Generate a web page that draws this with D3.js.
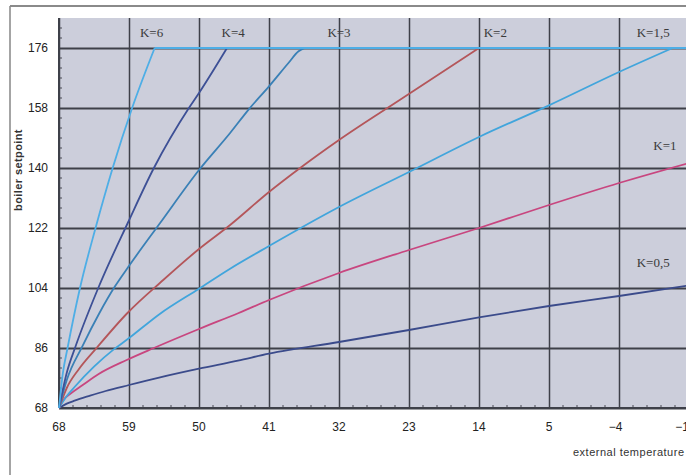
<!DOCTYPE html>
<html>
<head>
<meta charset="utf-8">
<script src="https://cdn.jsdelivr.net/npm/d3@7"></script>
<style>
  html, body { margin: 0; padding: 0; background: #fff; }
  svg { display: block; }
</style>
</head>
<body>
<svg id="chart" width="686" height="475"></svg>
<script>
// tick labels
const xTicks = [68, 59, 50, 41, 32, 23, 14, 5, -4, -13];
const yTicks = [68, 86, 104, 122, 140, 158, 176];

// curves: [external temperature, boiler setpoint]
const k05 = [[68, 68], [67, 69.3], [66, 70.2], [64, 71.7], [62, 73.1], [59, 74.9], [55, 77.2], [50, 79.8], [45, 82.2], [41, 84.3], [32, 87.8], [23, 91.4], [14, 95.2], [5, 98.6], [-4, 101.6], [-13, 104.8]];
const k1 = [[68, 68], [67.5, 70.2], [66.5, 72.3], [65, 74.8], [62.9, 78.2], [59.3, 82.4], [55.8, 86], [50, 91.7], [44.9, 96.5], [41, 100.4], [32, 108.5], [23, 115.4], [14, 122], [5, 128.9], [-4, 135.5], [-13, 141.5]];
const k15 = [[68, 68], [67, 71.6], [66, 74.3], [63.5, 80.4], [61, 85.5], [59.2, 88.6], [55, 96.3], [50, 103.8], [46, 109.8], [41, 116.6], [32, 128.3], [23, 138.8], [14, 149.3], [5, 158.8], [-4, 168.8], [-10.9, 176], [-13, 176]];
const k2 = [[68, 68], [67, 74], [65.5, 79.5], [63.1, 86.2], [59.2, 96.5], [54.6, 106.4], [50, 115.7], [46, 122.9], [41, 132.8], [37, 140], [32, 148.4], [24.2, 160.4], [14, 176], [-13, 176]];
const k3 = [[68, 68], [67, 76.4], [65, 86.5], [62.8, 96.5], [60.8, 104.5], [59.1, 110.3], [55, 123.5], [50, 139.4], [46, 150.5], [43.6, 157.6], [41, 164.5], [38.5, 171.5], [37.2, 175], [36.4, 176], [-13, 176]];
const k4 = [[68, 68], [67, 78.6], [65.9, 86.3], [62.9, 104.3], [59.1, 123.8], [55.8, 140], [51.3, 158], [50, 162.5], [46.4, 176], [-13, 176]];
const k6 = [[68, 68], [67.5, 78.5], [66.9, 86], [65.3, 104], [63.3, 122], [61.1, 140], [58.6, 158], [55.7, 176], [-13, 176]];

const seriesNames = ["K=0,5", "K=1", "K=1,5", "K=2", "K=3", "K=4", "K=6"];
const seriesData = [k05, k1, k15, k2, k3, k4, k6];
const seriesColors = ["#3b4b8b", "#c8467f", "#41a5dc", "#b4565a", "#3a80b6", "#3d5096", "#4eaee6"];
const setpointMax = 176;

// where each K label sits, in chart units
const labelPos = [[-8.4, 111.8], [-9.9, 146.9], [-8.4, 180.8], [11.9, 180.8], [32, 180.8], [45.6, 180.8], [56.1, 180.8]];

const svg = d3.select('#chart');

const plotLeft = 59, plotRight = 689, plotTop = 18, plotBottom = 408;

const x = d3.scaleLinear().domain([68, -13]).range([plotLeft, plotRight]);
const y = d3.scaleLinear().domain([68, 185]).range([plotBottom, plotTop]);

// outer frame
svg.append('line').attr('x1', 10).attr('x2', 10).attr('y1', 6).attr('y2', 475)
   .attr('stroke', '#a4a4a4').attr('stroke-width', 2);
svg.append('line').attr('x1', 10).attr('x2', 686).attr('y1', 6).attr('y2', 6)
   .attr('stroke', '#8a8a8a').attr('stroke-width', 2);

// plot background
svg.append('rect')
   .attr('x', plotLeft).attr('y', plotTop)
   .attr('width', plotRight - plotLeft).attr('height', plotBottom - plotTop)
   .attr('fill', '#cccedb');

// minor ticks
const minorY = d3.range(68, 185, 3).filter(v => !yTicks.includes(v));
svg.append('g').selectAll('line')
   .data(minorY)
   .join('line')
   .attr('x1', plotLeft).attr('x2', plotLeft + 3)
   .attr('y1', d => y(d)).attr('y2', d => y(d))
   .attr('stroke', '#4a4a55').attr('stroke-width', 1);

const minorX = d3.range(0, 46).map(i => 68 - i * 1.8).filter((v, i) => i % 5 !== 0);
svg.append('g').selectAll('line')
   .data(minorX)
   .join('line')
   .attr('x1', d => x(d)).attr('x2', d => x(d))
   .attr('y1', plotBottom).attr('y2', plotBottom - 3)
   .attr('stroke', '#4a4a55').attr('stroke-width', 1);

// gridlines
svg.append('g')
   .attr('transform', `translate(0, ${plotBottom})`)
   .call(d3.axisBottom(x).tickValues(xTicks).tickSize(-(plotBottom - plotTop)).tickFormat(''))
   .call(g => g.select('.domain').remove())
   .call(g => g.selectAll('line').attr('stroke', '#3e4049').attr('stroke-width', 1.5));

svg.append('g')
   .attr('transform', `translate(${plotLeft}, 0)`)
   .call(d3.axisLeft(y).tickValues(yTicks).tickSize(-(plotRight - plotLeft)).tickFormat(''))
   .call(g => g.select('.domain').remove())
   .call(g => g.selectAll('line').attr('stroke', '#3e4049').attr('stroke-width', 2));

// axis lines
svg.append('line').attr('x1', plotLeft).attr('x2', plotLeft).attr('y1', plotTop).attr('y2', plotBottom)
   .attr('stroke', '#3e4049').attr('stroke-width', 2);
svg.append('line').attr('x1', plotLeft).attr('x2', 686).attr('y1', plotBottom).attr('y2', plotBottom)
   .attr('stroke', '#3e4049').attr('stroke-width', 2);

// curves: the rising part is smoothed, the capped part stays straight
const smooth = d3.line()
   .x(d => x(d[0]))
   .y(d => y(d[1]))
   .curve(d3.curveMonotoneX);

const straight = d3.line()
   .x(d => x(d[0]))
   .y(d => y(d[1]));

const curves = svg.append('g');
seriesData.forEach((data, i) => {
    let capAt = data.findIndex(d => d[1] >= setpointMax);
    let rising = capAt < 0 ? data : data.slice(0, capAt + 1);
    let capped = capAt < 0 ? [] : data.slice(capAt);

    curves.append('path')
        .attr('d', smooth(rising))
        .attr('fill', 'none')
        .attr('stroke', seriesColors[i])
        .attr('stroke-width', 1.8)
        .attr('stroke-linejoin', 'round');

    if (capped.length > 1) {
        curves.append('path')
            .attr('d', straight(capped))
            .attr('fill', 'none')
            .attr('stroke', seriesColors[i])
            .attr('stroke-width', 1.8);
    }
});

// K labels
svg.append('g').selectAll('text')
   .data(seriesNames)
   .join('text')
   .attr('x', (d, i) => x(labelPos[i][0]))
   .attr('y', (d, i) => y(labelPos[i][1]))
   .attr('dy', '0.35em')
   .attr('text-anchor', 'middle')
   .attr('font-family', '"Liberation Serif", "Times New Roman", serif')
   .attr('font-size', 13)
   .attr('fill', '#3a3a3a')
   .text(d => d);

// tick labels
svg.append('g').selectAll('text')
   .data(yTicks)
   .join('text')
   .attr('x', 48)
   .attr('y', d => y(d))
   .attr('dy', '0.35em')
   .attr('text-anchor', 'end')
   .attr('font-family', '"Liberation Sans", Arial, sans-serif')
   .attr('font-size', 12)
   .attr('fill', '#222')
   .text(d => d);

// x labels: digits centred on the gridline, the minus sign hangs to the left
const digitW = 6.7;
svg.append('g').selectAll('text')
   .data(xTicks)
   .join('text')
   .attr('x', d => x(d) - (d < 0 ? 3.5 : 0))
   .attr('y', 431)
   .attr('text-anchor', 'middle')
   .attr('font-family', '"Liberation Sans", Arial, sans-serif')
   .attr('font-size', 12)
   .attr('fill', '#222')
   .text(d => d3.format('d')(d));

// axis titles
svg.append('text')
   .attr('transform', 'translate(22, 170) rotate(-90)')
   .attr('text-anchor', 'middle')
   .attr('font-family', '"Liberation Sans", Arial, sans-serif')
   .attr('font-size', 11)
   .attr('font-weight', 'bold')
   .attr('letter-spacing', 0.4)
   .attr('fill', '#333')
   .text('boiler setpoint');

svg.append('text')
   .attr('x', 573)
   .attr('y', 456)
   .attr('font-family', '"Liberation Sans", Arial, sans-serif')
   .attr('font-size', 11)
   .attr('letter-spacing', 0.5)
   .attr('fill', '#333')
   .text('external temperature');
</script>
</body>
</html>
